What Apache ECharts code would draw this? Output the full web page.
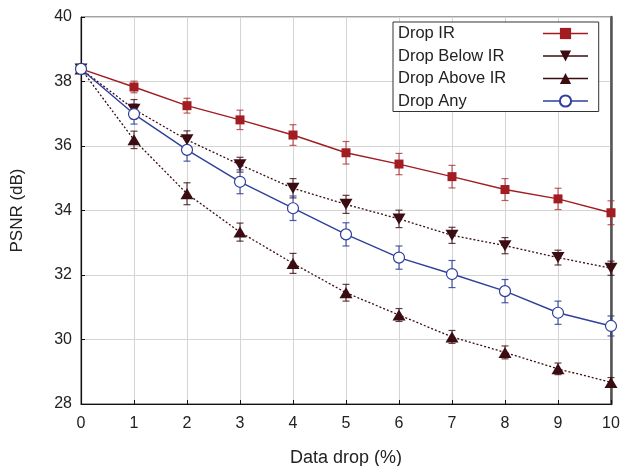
<!DOCTYPE html>
<html><head><meta charset="utf-8">
<script src="https://cdn.jsdelivr.net/npm/echarts@6/dist/echarts.min.js"></script>
<style>html,body{margin:0;padding:0;background:#fff}#c{width:621px;height:466px}</style>
</head><body><div id="c"></div>
<script>
const xVals = [0, 1, 2, 3, 4, 5, 6, 7, 8, 9, 10];
const xTicks = ['0','1','2','3','4','5','6','7','8','9','10'];
const seriesNames = ['Drop IR', 'Drop Below IR', 'Drop Above IR', 'Drop Any'];
const dropIR = [38.39, 37.83, 37.25, 36.81, 36.34, 35.79, 35.44, 35.05, 34.65, 34.36, 33.93];
const dropIRErr = [0.08, 0.18, 0.23, 0.30, 0.32, 0.35, 0.33, 0.35, 0.34, 0.33, 0.37];
const dropBelow = [38.39, 37.14, 36.19, 35.42, 34.69, 34.19, 33.74, 33.23, 32.91, 32.54, 32.21];
const dropBelowErr = [0.08, 0.30, 0.28, 0.23, 0.30, 0.28, 0.27, 0.25, 0.25, 0.23, 0.22];
const dropAbove = [38.39, 36.19, 34.52, 33.33, 32.36, 31.45, 30.76, 30.08, 29.60, 29.09, 28.67];
const dropAboveErr = [0.08, 0.27, 0.34, 0.28, 0.31, 0.26, 0.20, 0.20, 0.20, 0.18, 0.15];
const dropAny = [38.39, 36.99, 35.88, 34.89, 34.07, 33.26, 32.54, 32.03, 31.50, 30.83, 30.42];
const dropAnyErr = [0.08, 0.31, 0.35, 0.37, 0.38, 0.36, 0.36, 0.42, 0.36, 0.36, 0.31];

const FONT = 'Liberation Sans, Arial, sans-serif';
const chart = echarts.init(document.getElementById('c'), null, {renderer: 'canvas'});

function pts(vals) { return xVals.map((x, i) => [x, vals[i]]); }
function errData(vals, errs) { return xVals.map((x, i) => [x, vals[i] - errs[i], vals[i] + errs[i]]); }
function errSeries(name, vals, errs, color) {
  return {
    type: 'custom', name: name, z: 1, silent: true,
    data: errData(vals, errs),
    encode: {x: 0, y: [1, 2]},
    renderItem: function (params, api) {
      const x = api.value(0);
      const lo = api.coord([x, api.value(1)]);
      const hi = api.coord([x, api.value(2)]);
      const w = 3.5;
      const st = {stroke: color, lineWidth: 1.2};
      return {type: 'group', children: [
        {type: 'line', shape: {x1: lo[0], y1: lo[1], x2: hi[0], y2: hi[1]}, style: st},
        {type: 'line', shape: {x1: lo[0] - w, y1: lo[1], x2: lo[0] + w, y2: lo[1]}, style: st},
        {type: 'line', shape: {x1: hi[0] - w, y1: hi[1], x2: hi[0] + w, y2: hi[1]}, style: st}
      ]};
    }
  };
}

const cIR = '#a11d22', cDark = '#3b0d12', cAny = '#2f3f9c';

chart.setOption({
  animation: false,
  grid: {left: 81, right: 10, top: 17, bottom: 62, show: true, borderColor: '#444', borderWidth: 1,
    outerBoundsMode: 'none', containLabel: false},
  legend: {
    data: seriesNames,
    orient: 'vertical', left: 393, top: 22,
    align: 'right',
    backgroundColor: '#fff', borderColor: '#333', borderWidth: 1, borderRadius: 0,
    padding: [3, 10, 2, 5],
    itemGap: 5.5, itemWidth: 45, itemHeight: 14,
    lineStyle: {type: 'solid', width: 1.4},
    formatter: n => '{t|' + n + '}',
    textStyle: {fontFamily: FONT, fontSize: 16.5, color: '#222',
      rich: {t: {fontFamily: FONT, fontSize: 16.5, color: '#222', width: 140, align: 'left', lineHeight: 17}}}
  },
  xAxis: {
    type: 'value', min: 0, max: 10, interval: 1,
    name: 'Data drop (%)', nameLocation: 'middle', nameGap: 45,
    nameTextStyle: {fontFamily: FONT, fontSize: 18, color: '#222'},
    axisLine: {lineStyle: {color: '#111', width: 1.2}},
    axisTick: {inside: true, length: 4, lineStyle: {color: '#111'}},
    axisLabel: {fontFamily: FONT, fontSize: 16, color: '#222', margin: 12,
      formatter: v => xTicks[xVals.indexOf(v)]},
    splitLine: {show: true, lineStyle: {color: '#d4d4d4', width: 1}}
  },
  yAxis: [{
    type: 'value', min: 28, max: 40, interval: 2,
    name: 'PSNR (dB)', nameLocation: 'middle', nameGap: 55, nameRotate: 90,
    nameTextStyle: {fontFamily: FONT, fontSize: 17, color: '#222'},
    axisLine: {show: true, lineStyle: {color: '#111', width: 1.2}},
    axisTick: {show: true, inside: true, length: 4, lineStyle: {color: '#111'}},
    axisLabel: {fontFamily: FONT, fontSize: 16, color: '#222', margin: 9},
    splitLine: {show: true, lineStyle: {color: '#d4d4d4', width: 1}}
  }, {
    type: 'value', min: 28, max: 40, interval: 2, position: 'right',
    axisLine: {show: true, lineStyle: {color: '#555', width: 2.5}},
    axisTick: {show: false}, axisLabel: {show: false}, splitLine: {show: false}
  }],
  series: [
    errSeries('errIR', dropIR, dropIRErr, 'rgba(170,40,45,0.75)'),
    errSeries('errBelow', dropBelow, dropBelowErr, 'rgba(60,15,20,0.8)'),
    errSeries('errAbove', dropAbove, dropAboveErr, 'rgba(60,15,20,0.8)'),
    errSeries('errAny', dropAny, dropAnyErr, 'rgba(47,63,156,0.85)'),
    {type: 'line', name: 'Drop IR', data: pts(dropIR), z: 3,
      symbol: 'rect', symbolSize: 9, color: cIR,
      lineStyle: {color: cIR, width: 1.4}, itemStyle: {color: cIR}},
    {type: 'line', name: 'Drop Below IR', data: pts(dropBelow), z: 3,
      symbol: 'triangle', symbolRotate: 180, symbolSize: [13, 11], color: cDark,
      lineStyle: {color: cDark, width: 1.3, type: [2, 2]}, itemStyle: {color: cDark}},
    {type: 'line', name: 'Drop Above IR', data: pts(dropAbove), z: 3,
      symbol: 'triangle', symbolSize: [13, 11], color: cDark,
      lineStyle: {color: cDark, width: 1.3, type: [2, 2]}, itemStyle: {color: cDark}},
    {type: 'line', name: 'Drop Any', data: pts(dropAny), z: 4,
      symbol: 'circle', symbolSize: 11, color: cAny, showAllSymbol: true,
      lineStyle: {color: cAny, width: 1.4},
      itemStyle: {color: '#fff', borderColor: cAny, borderWidth: 1.2}}
  ]
});
</script></body></html>
